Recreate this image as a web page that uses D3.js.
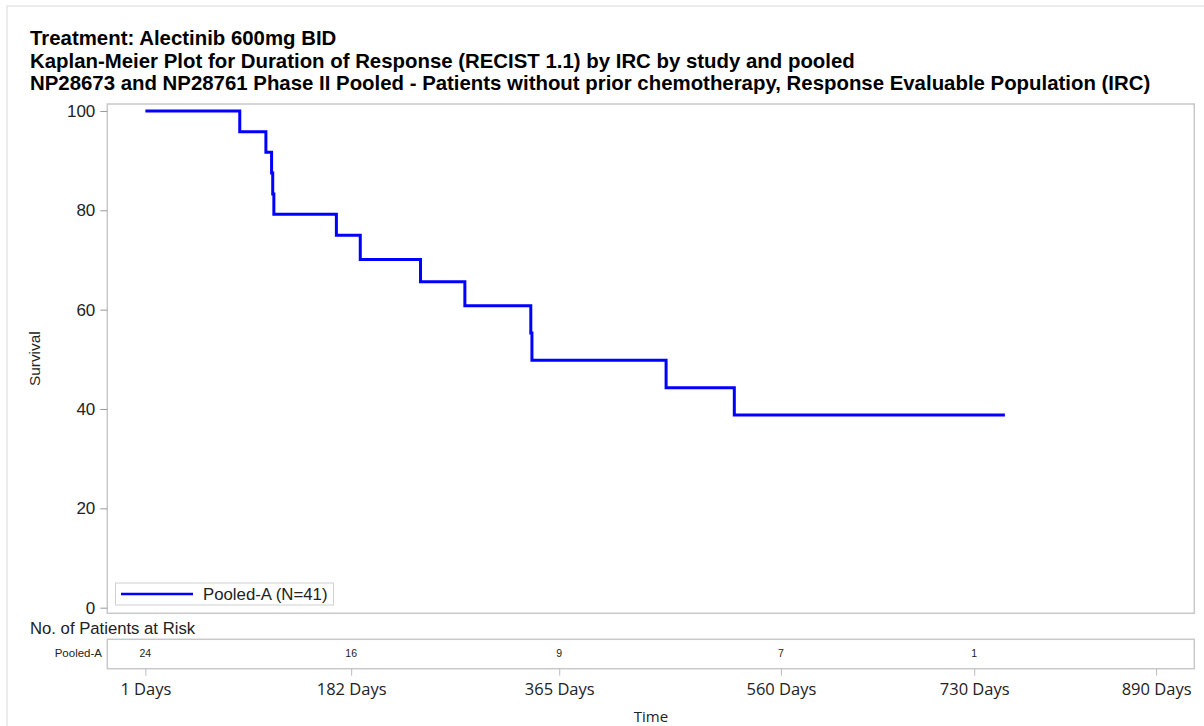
<!DOCTYPE html>
<html><head><meta charset="utf-8">
<script src="https://cdn.jsdelivr.net/npm/d3@7"></script>
<style>body{margin:0;background:#fff}svg{display:block}</style>
</head><body>
<script>
const titleLines = ["Treatment: Alectinib 600mg BID",
  "Kaplan-Meier Plot for Duration of Response (RECIST 1.1) by IRC by study and pooled",
  "NP28673 and NP28761 Phase II Pooled - Patients without prior chemotherapy, Response Evaluable Population (IRC)"];
const eventTimes = [1, 84, 107, 112, 113, 114, 169, 190, 243, 282, 340, 341, 459, 519];
const survival   = [100, 95.8, 91.7, 87.5, 83.3, 79.2, 75.0, 70.1, 65.6, 60.8, 55.3, 49.8, 44.3, 38.8];
const lastTime = 757;
const yTicks = [0, 20, 40, 60, 80, 100];
const xTicks = [1, 182, 365, 560, 730, 890];
const riskTimes = [1, 182, 365, 560, 730];
const riskCounts = [24, 16, 9, 7, 1];
const seriesName = "Pooled-A";
const legendLabel = "Pooled-A (N=41)";

const W = 1204, H = 726;
const svg = d3.select("body").append("svg").attr("width", W).attr("height", H);
svg.append("rect").attr("x", 7).attr("y", 6).attr("width", W).attr("height", H)
  .attr("fill", "#fff").attr("stroke", "#e6e6e6").attr("stroke-width", 1.5);

const L = 107.3, R = 1194.3, T = 104, B = 613.3;
const x = d3.scaleLinear().domain([-32.5, 923.6]).range([L, R]);
const y = d3.scaleLinear().domain([-1.13, 101.4]).range([B, T]);

const sans = "'Liberation Sans', Arial, sans-serif";
titleLines.forEach((t, i) => {
  svg.append("text").attr("x", 30).attr("y", 45 + i * 22.5).text(t)
    .attr("font-family", sans).attr("font-weight", "bold").attr("font-size", 20.4).attr("fill", "#000");
});

// plot frame
svg.append("rect").attr("x", L).attr("y", T).attr("width", R - L).attr("height", B - T)
  .attr("fill", "none").attr("stroke", "#c8c8c8").attr("stroke-width", 1.5);

// y axis
const yAxis = svg.append("g").attr("transform", `translate(${L},0)`)
  .call(d3.axisLeft(y).tickValues(yTicks).tickSize(7).tickPadding(5));
yAxis.select(".domain").remove();
yAxis.selectAll(".tick line").attr("stroke", "#999");
yAxis.selectAll("text").attr("font-family", sans).attr("font-size", 17).attr("fill", "#222");
svg.append("text").attr("transform", `translate(40,${(T + B) / 2}) rotate(-90)`)
  .attr("text-anchor", "middle").attr("font-family", sans).attr("font-size", 15.4).attr("fill", "#222")
  .text("Survival");

// KM curve
const pts = eventTimes.map((t, i) => [t, survival[i]]);
pts.push([lastTime, survival[survival.length - 1]]);
svg.append("path").datum(pts)
  .attr("d", d3.line().x(d => x(d[0])).y(d => y(d[1])).curve(d3.curveStepAfter))
  .attr("fill", "none").attr("stroke", "#0000ff").attr("stroke-width", 3);

// legend
const lg = svg.append("g");
lg.append("rect").attr("x", 115.5).attr("y", 583).attr("width", 218).attr("height", 22)
  .attr("fill", "#fff").attr("stroke", "#d0d0d0").attr("stroke-width", 1);
lg.append("line").attr("x1", 121).attr("x2", 193).attr("y1", 594).attr("y2", 594)
  .attr("stroke", "#0000ff").attr("stroke-width", 2.5);
lg.append("text").attr("x", 203).attr("y", 600).text(legendLabel)
  .attr("font-family", sans).attr("font-size", 16.8).attr("fill", "#222");

// at risk
svg.append("text").attr("x", 30).attr("y", 634).text("No. of Patients at Risk")
  .attr("font-family", sans).attr("font-size", 16.7).attr("fill", "#222");
const RT = 639.3, RB = 668.7;
svg.append("rect").attr("x", L).attr("y", RT).attr("width", R - L).attr("height", RB - RT)
  .attr("fill", "none").attr("stroke", "#c8c8c8").attr("stroke-width", 1.5);
svg.append("text").attr("x", 102).attr("y", 657).attr("text-anchor", "end").text(seriesName)
  .attr("font-family", sans).attr("font-size", 11.5).attr("fill", "#222");
svg.selectAll(".risk").data(riskTimes).enter().append("text")
  .attr("x", d => x(d)).attr("y", 657).attr("text-anchor", "middle")
  .text((d, i) => riskCounts[i])
  .attr("font-family", sans).attr("font-size", 10.5).attr("fill", "#222");

// x axis
const xAxis = svg.append("g").attr("transform", `translate(0,${RB})`)
  .call(d3.axisBottom(x).tickValues(xTicks).tickSize(7).tickPadding(8).tickFormat(d => d + " Days"));
xAxis.select(".domain").remove();
xAxis.selectAll(".tick line").attr("stroke", "#bbb");
xAxis.selectAll("text").attr("font-family", "'Open Sans', sans-serif").attr("font-size", 16.5).attr("fill", "#222");
svg.append("text").attr("x", 651).attr("y", 721.5).attr("text-anchor", "middle").text("Time")
  .attr("font-family", "'Open Sans', sans-serif").attr("font-size", 15).attr("fill", "#222");
</script>
</body></html>
